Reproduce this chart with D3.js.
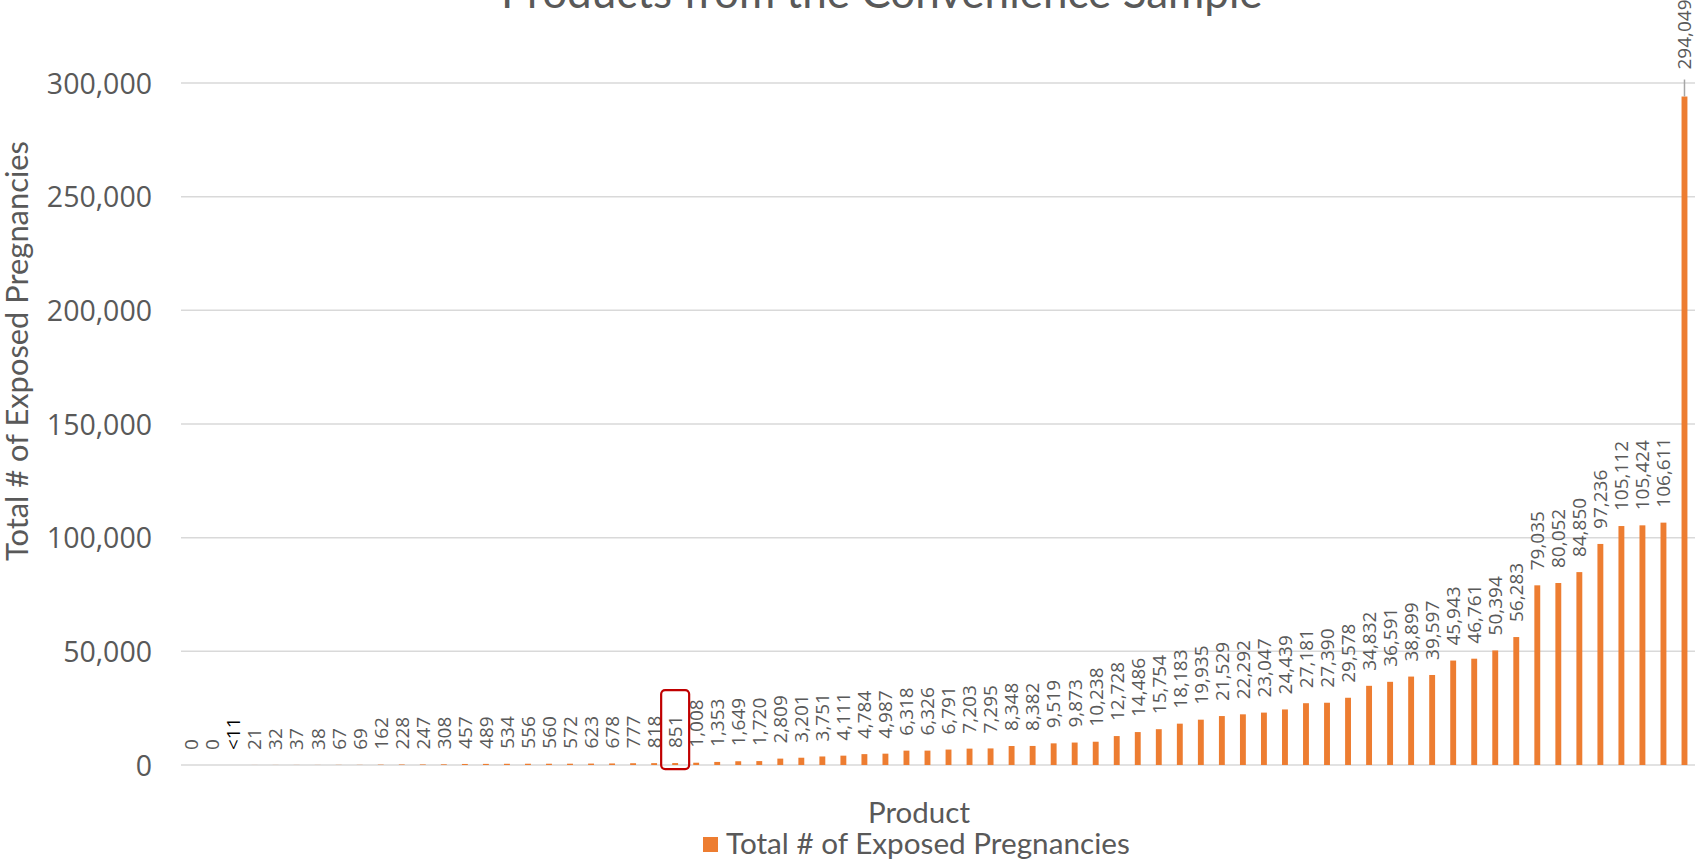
<!DOCTYPE html>
<html>
<head>
<meta charset="utf-8">
<script src="https://cdn.jsdelivr.net/npm/d3@7"></script>
<style>
  html, body { margin: 0; padding: 0; background: #ffffff; }
  svg { display: block; }
</style>
</head>
<body>
<svg id="chart" width="1695" height="860"></svg>
<script>
// ---------------- DATA ----------------
const chartTitle = "Products from the Convenience Sample";
const yAxisTitle = "Total # of Exposed Pregnancies";
const xAxisTitle = "Product";
const seriesName = "Total # of Exposed Pregnancies";

const values = [0, 0, 0, 21, 32, 37, 38, 67, 69, 162, 228, 247, 308, 457, 489, 534, 556, 560, 572, 623,
  678, 777, 818, 851, 1008, 1353, 1649, 1720, 2809, 3201, 3751, 4111, 4784, 4987, 6318, 6326, 6791,
  7203, 7295, 8348, 8382, 9519, 9873, 10238, 12728, 14486, 15754, 18183, 19935, 21529, 22292, 23047,
  24439, 27181, 27390, 29578, 34832, 36591, 38899, 39597, 45943, 46761, 50394, 56283, 79035, 80052,
  84850, 97236, 105112, 105424, 106611, 294049];
const maskedLabels = [{ index: 2, text: "<11" }];
const highlightedIndex = 23; // 851 boxed in red
const categories = values.map((v, i) => "Product " + (i + 1));
const yTicks = [0, 50000, 100000, 150000, 200000, 250000, 300000];

// ---------------- LAYOUT ----------------
const svg = d3.select("#chart");
const plot = { left: 181, right: 1695, top: 83, bottom: 765 };

const x = d3.scaleBand().domain(categories).range([plot.left, plot.right])
  .paddingInner(0.72).paddingOuter(0.36);
const y = d3.scaleLinear().domain([0, 300000]).range([plot.bottom, plot.top]);

const fmt = d3.format(",");
const labelText = (v, i) => {
  const m = maskedLabels.find(d => d.index === i);
  return m ? m.text : fmt(v);
};

function fitFont(sel, targetWidth, baseSize) {
  sel.attr("font-size", baseSize);
  const w = sel.node().getComputedTextLength();
  sel.attr("font-size", baseSize * targetWidth / w);
}

// gridlines
svg.append("g").selectAll("line").data(yTicks).join("line")
  .attr("x1", plot.left).attr("x2", plot.right)
  .attr("y1", d => y(d)).attr("y2", d => y(d))
  .attr("stroke", "#d9d9d9").attr("stroke-width", 1.5);

// y tick labels via axis
const yAxis = d3.axisLeft(y).tickValues(yTicks).tickFormat(fmt).tickSize(0).tickPadding(0);
const yg = svg.append("g").attr("transform", `translate(152,0)`).call(yAxis);
yg.select(".domain").remove();
yg.selectAll("text")
  .attr("font-family", "'Open Sans', sans-serif")
  .attr("font-size", 28.5)
  .attr("fill", "#595959")
  .attr("dy", "0.36em");

// bars
svg.append("g").selectAll("rect").data(values).join("rect")
  .attr("x", (d, i) => x(categories[i]))
  .attr("width", x.bandwidth())
  .attr("y", d => y(d))
  .attr("height", d => y(0) - y(d))
  .attr("fill", "#ed7d31");

// data labels (rotated)
const labelGap = 15;
svg.append("g").selectAll("text").data(values).join("text")
  .attr("transform", (d, i) => {
    const cx = x(categories[i]) + x.bandwidth() / 2;
    const top = y(d) - (d > 200000 ? 27 : labelGap);
    return `translate(${cx},${top}) rotate(-90)`;
  })
  .attr("dy", "0.36em")
  .attr("text-anchor", "start")
  .attr("font-family", "'Open Sans', sans-serif")
  .attr("font-size", 19)
  .attr("fill", (d, i) => maskedLabels.some(m => m.index === i) ? "#000000" : "#595959")
  .text((d, i) => labelText(d, i));

// leader line for the tallest bar
const maxIdx = values.indexOf(d3.max(values));
svg.append("line")
  .attr("x1", x(categories[maxIdx]) + x.bandwidth() / 2)
  .attr("x2", x(categories[maxIdx]) + x.bandwidth() / 2)
  .attr("y1", y(values[maxIdx]) - 17)
  .attr("y2", y(values[maxIdx]))
  .attr("stroke", "#a6a6a6").attr("stroke-width", 1.5);

// highlight box
const hx = x(categories[highlightedIndex]) + x.bandwidth() / 2;
svg.append("rect")
  .attr("x", hx - 14).attr("y", y(values[highlightedIndex]) - 73)
  .attr("width", 28).attr("height", 79)
  .attr("rx", 4).attr("ry", 4)
  .attr("fill", "none").attr("stroke", "#c00000").attr("stroke-width", 2.2);

// chart title (partially clipped at top, as in the reference)
const t = svg.append("text")
  .attr("x", 501).attr("y", 8)
  .attr("font-family", "Lato, sans-serif")
  .attr("fill", "#595959")
  .text(chartTitle);
fitFont(t, 762, 38);

// y axis title
const yt = svg.append("text")
  .attr("transform", `translate(28,351) rotate(-90)`)
  .attr("text-anchor", "middle")
  .attr("font-family", "Lato, sans-serif")
  .attr("fill", "#595959")
  .text(yAxisTitle);
fitFont(yt, 420, 26);

// x axis title
const xt = svg.append("text")
  .attr("x", 919).attr("y", 823)
  .attr("text-anchor", "middle")
  .attr("font-family", "Lato, sans-serif")
  .attr("fill", "#595959")
  .text(xAxisTitle);
fitFont(xt, 102, 26);

// legend
const lg = svg.append("g");
lg.append("rect").attr("x", 703).attr("y", 837).attr("width", 15).attr("height", 15).attr("fill", "#ed7d31");
const lt = lg.append("text")
  .attr("x", 726).attr("y", 854)
  .attr("font-family", "Lato, sans-serif")
  .attr("fill", "#595959")
  .text(seriesName);
fitFont(lt, 404, 26);
</script>
</body>
</html>
